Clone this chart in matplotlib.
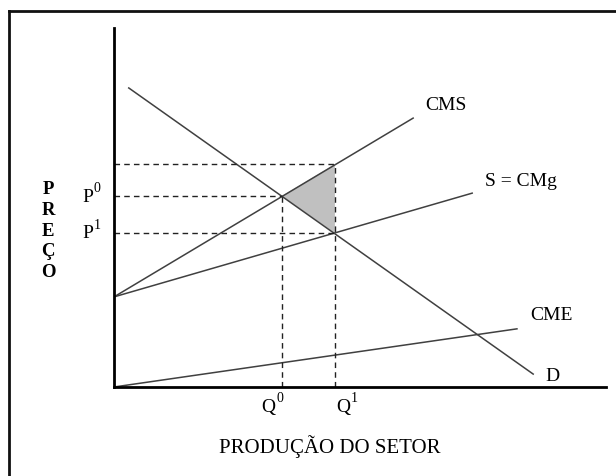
import matplotlib
matplotlib.use("Agg")
from matplotlib import pyplot as plt
from matplotlib.lines import Line2D

plt.rcParams['font.family'] = ['Liberation Serif', 'DejaVu Serif']

# curve endpoints (quantity, price) in arbitrary units 0..10
cms_x = [0.0, 6.08]
cms_y = [2.51, 7.49]
s_x = [0.0, 7.28]
s_y = [2.51, 5.40]
cme_x = [0.0, 8.19]
cme_y = [0.0, 1.62]
d_x = [0.30, 8.52]
d_y = [8.33, 0.36]

# equilibrium points
q0, q1 = 3.41, 4.49
p0, p1 = 5.32, 4.29
p_cms = 6.21   # CMS at q1

fig = plt.figure(figsize=(6.16, 4.77), dpi=100)
ax = fig.add_axes([114 / 616, (477 - 388) / 477, 492 / 616, 359 / 477])
ax.set_xlim(0, 10)
ax.set_ylim(0, 10)

line_kw = dict(color='#404040', lw=1.1)
ax.plot(cms_x, cms_y, **line_kw)
ax.plot(s_x, s_y, **line_kw)
ax.plot(cme_x, cme_y, **line_kw)
ax.plot(d_x, d_y, **line_kw)

# shaded triangle
ax.fill([q0, q1, q1], [p0, p_cms, p1], color='#c0c0c0', lw=0, zorder=1)

# dashed guides
dash_kw = dict(color='#222222', lw=1.0, dashes=(4, 3))
ax.plot([0, q1], [p_cms, p_cms], **dash_kw)
ax.plot([0, q0], [p0, p0], **dash_kw)
ax.plot([0, q1], [p1, p1], **dash_kw)
ax.plot([q0, q0], [0, p0], **dash_kw)
ax.plot([q1, q1], [0, p_cms], **dash_kw)

# axes
for side in ['top', 'right']:
    ax.spines[side].set_visible(False)
for side in ['left', 'bottom']:
    ax.spines[side].set_linewidth(2)
    ax.spines[side].set_color('black')
ax.set_xticks([])
ax.set_yticks([])

# curve labels
fs = 14
ax.text(6.32, 7.86, 'CMS', fontsize=fs, va='center', ha='left')
ax.text(7.54, 5.74, 'S = CMg', fontsize=fs, va='center', ha='left')
ax.text(8.46, 2.03, 'CME', fontsize=fs, va='center', ha='left')
ax.text(8.76, 0.33, 'D', fontsize=fs, va='center', ha='left')


def sup_label(x, y, base, sup, dx):
    # letter with a superscript digit drawn as a second text
    ax.text(x, y, base, fontsize=fs, va='center', ha='left', clip_on=False)
    ax.annotate(sup, (x, y), xytext=(dx, 6), textcoords='offset points',
                fontsize=10, va='center', ha='left', annotation_clip=False)


sup_label(-0.65, p0, 'P', '0', 8.5)
sup_label(-0.65, p1, 'P', '1', 8.5)
sup_label(3.0, -0.53, 'Q', '0', 10.5)
sup_label(4.52, -0.53, 'Q', '1', 10.5)

ax.text(-1.34, 4.37, 'P\nR\nE\nÇ\nO', fontsize=13.5, fontweight='bold',
        va='center', ha='center', linespacing=1.28, clip_on=False)
ax.text(4.39, -1.64, 'PRODUÇÃO DO SETOR', fontsize=15, va='center', ha='center',
        clip_on=False)

# picture frame (top and left edges)
fig.add_artist(Line2D([9 / 616, 9 / 616], [0, 1 - 12 / 477], transform=fig.transFigure,
                      color='#111111', lw=2))
fig.add_artist(Line2D([9 / 616, 1], [1 - 12 / 477, 1 - 12 / 477], transform=fig.transFigure,
                      color='#111111', lw=2))

plt.savefig('out.png', dpi=100)
